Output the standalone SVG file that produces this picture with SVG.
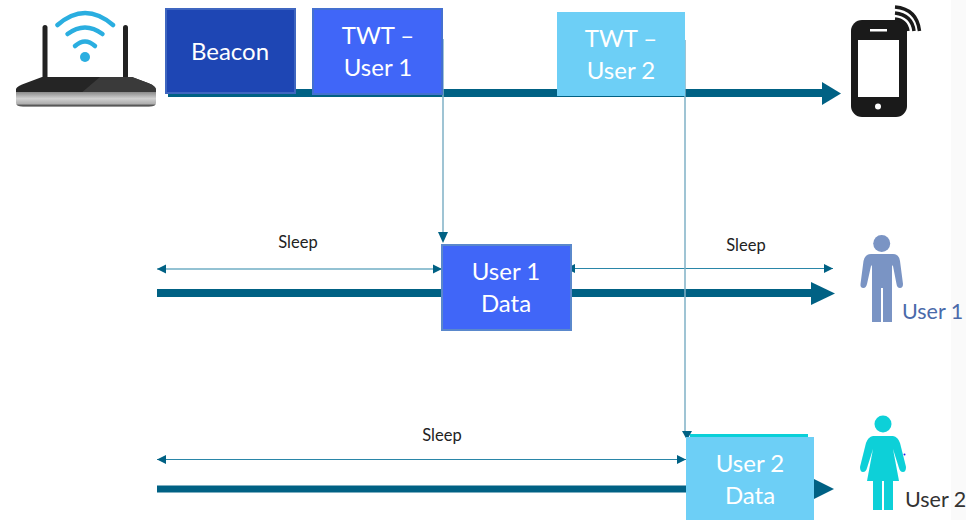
<svg xmlns="http://www.w3.org/2000/svg" width="966" height="520" viewBox="0 0 966 520">
<defs>
<marker id="thin" markerUnits="userSpaceOnUse" markerWidth="10" markerHeight="10" refX="9" refY="5" orient="auto-start-reverse"><path d="M0 .5L9 5L0 9.500Z" fill="#006184"/></marker>
<filter id="shadow" x="-400%" y="-5%" width="900%" height="110%"><feGaussianBlur stdDeviation="3"/></filter>
<filter id="soft" x="-5%" y="-5%" width="110%" height="110%"><feGaussianBlur stdDeviation=".5"/></filter>
<linearGradient id="band" x1="0" y1="0" x2="0" y2="1"><stop offset="0" stop-color="#8a8a8a"/><stop offset=".45" stop-color="#d0d0d0"/><stop offset=".8" stop-color="#b0b0b0"/><stop offset="1" stop-color="#2a2a2a"/></linearGradient>
</defs>
<style>
.box{stroke-width:2}
.lbl{font-family:"Lato","Carlito","Liberation Sans",sans-serif;font-size:24px;fill:#fff;text-anchor:middle}
.sleep{font-family:"Lato","Carlito","Liberation Sans",sans-serif;font-size:16.500px;fill:#222;text-anchor:middle}
.bus{stroke:#006184;fill:none}
.head{fill:#006184}
.thin{stroke:#2a86a8;stroke-width:1.200;fill:none;marker-start:url(#thin);marker-end:url(#thin)}
.drop{stroke:#7fb0c6;stroke-width:1.500;fill:none}
.wifi{stroke:#2aaee0;stroke-width:4.500;fill:none;stroke-linecap:round}
.arc{stroke:#1a1a1a;stroke-width:3.500;fill:none}
.tag{font-family:"Lato","Carlito","Liberation Sans",sans-serif;font-size:21.500px}
</style>
<rect x="951" y="0" width="15" height="520" fill="#fafafa"/>
<g id="connectors">
<path class="bus" stroke-width="8" d="M168 93H824"/><path class="head" d="M822 82L841 93.500L822 105Z"/>
<path class="bus" stroke-width="8" d="M157 293H814"/><path class="head" d="M811 282L835 293.500L811 305Z"/>
<path class="bus" stroke-width="7" d="M157 489H815"/><path class="head" d="M814 479L834 489L814 499Z"/>
<path class="thin" d="M157 269H442"/>
<path class="thin" d="M566 268.500H833"/>
<path class="thin" d="M157 459.500H686"/>
<path d="M447 40V232" stroke="#999" stroke-width="5" opacity=".3" filter="url(#shadow)"/>
<path d="M689 40V431" stroke="#999" stroke-width="5" opacity=".3" filter="url(#shadow)"/>
<path class="drop" d="M443 39V234"/><path class="head" d="M438 232H448L443 243Z"/>
<path class="drop" d="M685 40V431"/><path class="head" d="M682 431H692L687 440Z"/>
</g>
<g id="router">
<rect x="42.500" y="25" width="5" height="54" rx="2.500" fill="#222"/>
<rect x="123" y="25" width="5" height="54" rx="2.500" fill="#222"/>
<path d="M16 89Q17 86 26 83L42 77H132L148 83Q156 86 156 90V94H16Z" fill="#252525"/>
<path d="M80 94L100 77H132L148 83Q156 86 156 90V94Z" fill="#3a3a3a"/>
<path d="M16 92H156V103Q156 106.500 149 106.500H23Q16 106.500 16 103Z" fill="url(#band)"/>
<circle cx="85" cy="57" r="5" fill="#2aaee0"/>
<path class="wifi" d="M75 46Q85 37 95 46"/>
<path class="wifi" d="M67.500 34Q85 21 102.500 34"/>
<path class="wifi" d="M57.500 25Q85 1 113 25"/>
</g>
<g id="beacon">
<rect class="box" x="166" y="9" width="129" height="84" fill="#1e46b4" stroke="#3f66c0"/>
<text class="lbl" x="230" y="60">Beacon</text>
</g>
<g id="twt-user-1">
<rect class="box" x="313" y="9" width="129" height="85" fill="#4066f8" stroke="#4470d0"/>
<text class="lbl" x="378" y="44">TWT –</text>
<text class="lbl" x="378" y="76">User 1</text>
</g>
<g id="twt-user-2">
<rect x="557" y="12" width="128" height="84" fill="#6dcff6"/>
<text class="lbl" x="621" y="47">TWT –</text>
<text class="lbl" x="621" y="79">User 2</text>
</g>
<g id="phone">
<rect x="851" y="20" width="56" height="97" rx="11" fill="#1a1a1a"/>
<rect x="858" y="40" width="41" height="57" fill="#fff"/>
<rect x="870" y="29" width="17" height="2.500" fill="#fff"/>
<circle cx="878" cy="106.500" r="3" fill="#fff"/>
<path class="arc" d="M895 7Q917 9 919.500 31"/>
<path class="arc" d="M895 13Q912 15 914 31"/>
<path class="arc" d="M895 19Q906 20 908 31"/>
</g>
<g id="user-1-data">
<rect class="box" x="442" y="245" width="129" height="85" fill="#4066f8" stroke="#5a88cc"/>
<text class="lbl" x="506" y="280">User 1</text>
<text class="lbl" x="506" y="312">Data</text>
</g>
<g id="user-2-data">
<rect x="690" y="434" width="118" height="4" fill="#0ad0d8"/>
<rect x="686" y="437" width="128" height="83" fill="#6dcff6"/>
<text class="lbl" x="750" y="472">User 2</text>
<text class="lbl" x="750" y="504">Data</text>
</g>
<g id="sleep-labels">
<text class="sleep" x="298" y="248">Sleep</text>
<text class="sleep" x="746" y="251">Sleep</text>
<text class="sleep" x="442" y="441">Sleep</text>
</g>
<g id="user-1">
<circle cx="881.700" cy="243.500" r="8.500" fill="#7a94c4" filter="url(#soft)"/>
<path filter="url(#soft)" d="M871 254H893Q899 254 900 261L903 284Q903 288 900 288Q897 288 896.500 284L893 266Q892 264 892 268V322H883V288H881V322H872V268Q872 264 871 266L867 284Q866 288 863.500 288Q860 288 860.500 284L863.500 261Q865 254 871 254Z" fill="#7a94c4"/>
<text class="tag" x="902" y="319" fill="#4a6aaa">User 1</text>
</g>
<g id="user-2">
<circle cx="883" cy="424" r="8.500" fill="#0ad0d8" filter="url(#soft)"/>
<path filter="url(#soft)" d="M873 436H893Q898 437 900 443L906 467Q906 472 903 472Q900 472 899 468L893 449L899 481H893V510H884V481H882V510H873V481H867L873 449L867 468Q866 472 863 472Q860 472 860 467L866 443Q868 437 873 436Z" fill="#0ad0d8"/>
<circle cx="904.500" cy="454.500" r="1" fill="#2222ee"/>
<text class="tag" x="905" y="507" fill="#333">User 2</text>
</g>
</svg>
